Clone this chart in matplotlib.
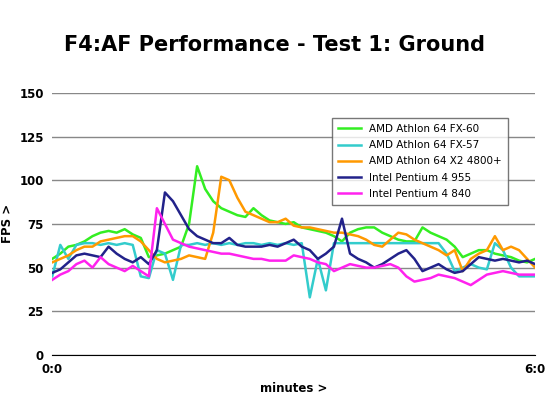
import numpy as np
import matplotlib
matplotlib.use("Agg")
import matplotlib.pyplot as plt

t = np.round(np.arange(0, 6.01, 0.1), 1)
fx60 = [55,58,62,63,65,68,70,71,70,72,69,67,56,57,58,60,62,75,108,95,88,84,82,80,79,84,80,77,76,75,76,73,72,71,70,68,65,70,72,73,73,70,68,66,65,65,73,70,68,66,62,56,58,60,60,58,57,56,54,53,55]
fx57 = [45,63,55,63,64,64,63,64,63,64,63,45,44,60,58,43,63,63,64,63,64,63,64,63,64,64,63,64,63,64,63,64,33,55,37,64,64,64,64,64,64,64,64,64,64,64,64,64,64,58,48,50,52,50,49,64,60,50,45,45,45]
x2 = [53,55,57,60,62,62,65,66,67,68,68,65,60,55,53,54,55,57,56,55,70,102,100,90,82,80,78,76,76,78,74,73,73,72,71,70,70,69,68,66,63,62,66,70,69,66,64,62,60,57,60,48,55,58,60,68,60,62,60,55,50]
p955 = [47,49,53,57,58,57,56,62,58,55,53,56,52,60,93,88,80,72,68,66,64,64,67,63,62,62,62,63,62,64,66,62,60,55,58,62,78,58,55,53,50,52,55,58,60,55,48,50,52,49,47,48,52,56,55,54,55,54,53,54,52]
p840 = [43,46,48,52,54,50,56,52,50,48,51,48,45,84,75,66,64,62,61,60,59,58,58,57,56,55,55,54,54,54,57,56,55,53,52,48,50,52,51,50,50,51,52,50,45,42,43,44,46,45,44,42,40,43,46,47,48,47,46,46,46]
series = [("AMD Athlon 64 FX-60", fx60, "#33ee22"),
          ("AMD Athlon 64 FX-57", fx57, "#33cccc"),
          ("AMD Athlon 64 X2 4800+", x2, "#ff9900"),
          ("Intel Pentium 4 955", p955, "#22228a"),
          ("Intel Pentium 4 840", p840, "#ff22ee")]
yticks = [0, 25, 50, 75, 100, 125, 150]

fig = plt.figure(figsize=(5.5, 4.09), dpi=100)
ax = fig.add_axes([0.095, 0.132, 0.878, 0.641])
for lab, v, c in series:
    ax.plot(t, v, color=c, lw=1.8, label=lab)
ax.set_xlim(0, 6)
ax.set_ylim(0, 150)
ax.set_yticks(yticks)
ax.set_yticklabels([str(y) for y in yticks], fontweight="bold", fontsize=8.5)
ax.set_xticks([0, 6])
ax.set_xticklabels(["0:0", "6:0"], fontweight="bold", fontsize=8.5)
ax.grid(axis="y", color="#888888", lw=1)
ax.set_axisbelow(True)
for s in ["top", "right", "left"]:
    ax.spines[s].set_visible(False)
ax.spines["bottom"].set_color("black")
ax.tick_params(length=0, pad=6)
ax.set_xlabel("minutes >", fontweight="bold", fontsize=8.5)
ax.set_ylabel("FPS >", fontweight="bold", fontsize=8.5)
fig.suptitle("F4:AF Performance - Test 1: Ground", fontweight="bold", fontsize=15, y=0.915)
leg = ax.legend(loc="upper right", bbox_to_anchor=(0.955, 0.925), fontsize=7.5, frameon=True,
                fancybox=False, edgecolor="#555555", handlelength=2.2, borderpad=0.6, labelspacing=0.6)
leg.get_frame().set_linewidth(1)
fig.savefig("out.png", dpi=100)
